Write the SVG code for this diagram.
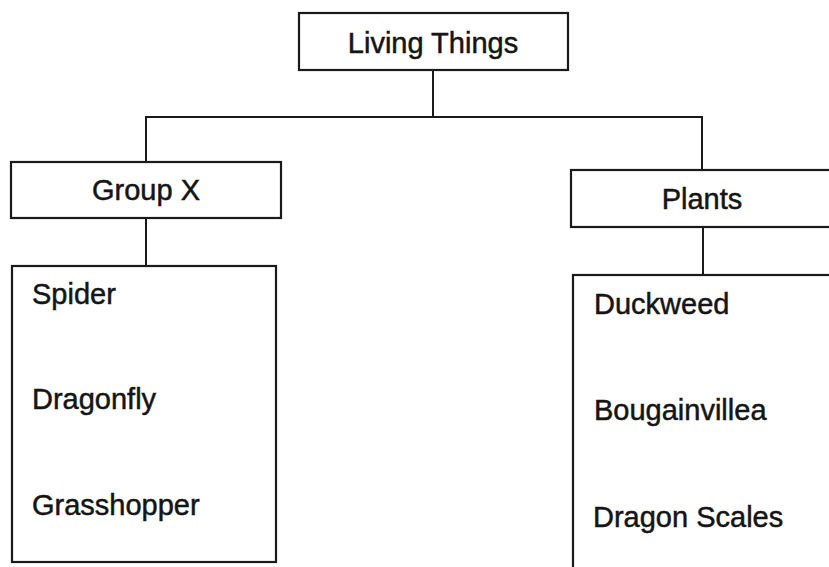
<svg xmlns="http://www.w3.org/2000/svg" width="829" height="567" viewBox="0 0 829 567">
<style>
.box{fill:#fff;stroke:#1a1a1a;stroke-width:2.2}
.ln{fill:none;stroke:#1a1a1a;stroke-width:2}
.t{font-family:"Liberation Sans",Arial,sans-serif;font-size:29px;fill:#151515;stroke:#151515;stroke-width:0.5}
</style>
<rect width="829" height="567" fill="#fff"/>
<g id="connectors">
<path class="ln" d="M433 70 V118"/>
<path class="ln" d="M146 162 V117 H702 V170"/>
<path class="ln" d="M146 218 V266"/>
<path class="ln" d="M703 227 V275"/>
</g>
<g id="living-things">
<rect class="box" x="299" y="13" width="269" height="57"/>
<text class="t" x="433" y="53" text-anchor="middle">Living Things</text>
</g>
<g id="group-x">
<rect class="box" x="11" y="162" width="270" height="56"/>
<text class="t" x="146" y="200" text-anchor="middle">Group X</text>
</g>
<g id="plants">
<rect class="box" x="571" y="170" width="270" height="57"/>
<text class="t" x="702" y="209" text-anchor="middle">Plants</text>
</g>
<g id="group-x-list">
<rect class="box" x="12" y="266" width="264" height="296"/>
<text class="t" x="32" y="304">Spider</text>
<text class="t" x="32" y="409">Dragonfly</text>
<text class="t" x="32" y="515">Grasshopper</text>
</g>
<g id="plants-list">
<rect class="box" x="573" y="275" width="270" height="300"/>
<text class="t" x="594" y="314">Duckweed</text>
<text class="t" x="594" y="420">Bougainvillea</text>
<text class="t" x="593" y="527">Dragon Scales</text>
</g>
</svg>
